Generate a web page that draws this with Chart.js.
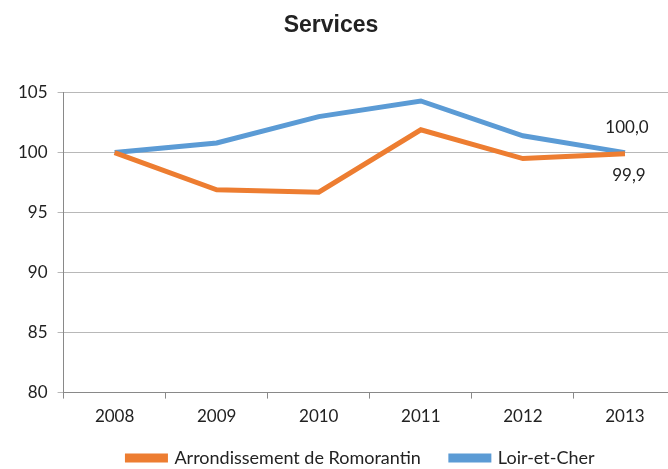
<!DOCTYPE html>
<html lang="fr">
<head>
  <meta charset="UTF-8" />
  <title>Services</title>
  <style>
    * { margin: 0; padding: 0; box-sizing: border-box; }
    body { background: #fff; width: 668px; height: 469px; overflow: hidden; }
    .wrap { width: 676px; height: 469px; }
  </style>
</head>
<body>
  <div class="wrap"><canvas id="chart" width="676" height="469"></canvas></div>

  <script src="https://cdn.jsdelivr.net/npm/chart.js"></script>
  <script>
    const years = ['2008', '2009', '2010', '2011', '2012', '2013'];
    const romorantin = [100, 96.9, 96.7, 101.9, 99.5, 99.9];
    const loirEtCher = [100, 100.8, 103.0, 104.3, 101.4, 100.0];
    const yTicks = [80, 85, 90, 95, 100, 105];

    const font = 'Lato, Liberation Sans, sans-serif';

    // étiquettes de la dernière valeur + petits ajustements de mise en page
    const lastLabels = {
      id: 'lastLabels',
      afterLayout(chart) {
        if (chart.titleBlock) { chart.titleBlock.left -= 11; chart.titleBlock.right -= 11; }
        if (chart.legend) { chart.legend.left += 19; chart.legend.right += 19; }
        // l'axe x est plus bas que sa boîte : éviter que les libellés soient coupés
        chart.scales.x.bottom += 30;
      },
      afterDatasetsDraw(chart) {
        const ctx = chart.ctx;
        ctx.save();
        ctx.font = '17px ' + font;
        ctx.fillStyle = '#222';
        ctx.textAlign = 'center';
        const pBlue = chart.getDatasetMeta(1).data[5];
        const pOr = chart.getDatasetMeta(0).data[5];
        ctx.textBaseline = 'middle';
        ctx.fillText(loirEtCher[5].toFixed(1).replace('.', ','), pBlue.x + 2, pBlue.y - 25);
        ctx.fillText(romorantin[5].toFixed(1).replace('.', ','), pOr.x + 4, pOr.y + 22);
        ctx.restore();
      }
    };

    new Chart(document.getElementById('chart'), {
      type: 'line',
      data: {
        labels: years,
        datasets: [{
          label: 'Arrondissement de Romorantin',
          data: romorantin,
          borderColor: '#ED7D31',
          backgroundColor: '#ED7D31',
          borderWidth: 5,
          pointRadius: 0,
          tension: 0,
          fill: false
        }, {
          label: 'Loir-et-Cher',
          data: loirEtCher,
          borderColor: '#5B9BD5',
          backgroundColor: '#5B9BD5',
          borderWidth: 5,
          pointRadius: 0,
          tension: 0,
          fill: false
        }]
      },
      options: {
        responsive: false,
        animation: false,
        layout: { padding: { left: 8, right: 0, top: 12, bottom: -8 } },
        plugins: {
          title: {
            display: true,
            text: 'Services',
            color: '#222',
            font: { family: 'Liberation Sans, Arial, sans-serif', size: 23, weight: 'bold' },
            padding: { top: 0, bottom: 53 }
          },
          legend: {
            position: 'bottom',
            labels: {
              color: '#222',
              font: { family: font, size: 18 },
              boxWidth: 38,
              boxHeight: 4,
              padding: 30
            }
          },
          tooltip: { enabled: false }
        },
        scales: {
          x: {
            offset: true,
            afterFit(axis) { axis.height -= 16; },
            grid: { offset: true, drawOnChartArea: false, drawTicks: true, tickLength: 6, color: '#898989' },
            border: { color: '#898989' },
            ticks: { color: '#222', font: { family: font, size: 17 }, padding: 8 }
          },
          y: {
            min: 80,
            max: 105,
            afterBuildTicks(axis) { axis.ticks = yTicks.map(v => ({ value: v })); },
            grid: { color: '#b8b8b8', tickLength: 6 },
            border: { color: '#898989' },
            ticks: { color: '#222', font: { family: font, size: 17 }, padding: 10 }
          }
        }
      },
      plugins: [lastLabels]
    });
  </script>
</body>
</html>
